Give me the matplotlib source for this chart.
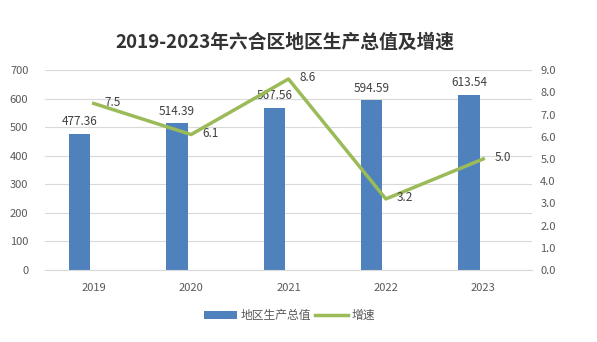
import matplotlib.pyplot as plt
import numpy as np

plt.rcParams['font.family'] = ['Noto Sans CJK SC', 'DejaVu Sans']

years = ['2019', '2020', '2021', '2022', '2023']
gdp = [477.36, 514.39, 567.56, 594.59, 613.54]
growth = [7.5, 6.1, 8.6, 3.2, 5.0]

BLUE = '#4F81BD'
GREEN = '#9BBB59'
TXT = '#595959'

fig = plt.figure(figsize=(5.97, 3.42), dpi=100)
ax = fig.add_axes([0.0754, 0.2105, 0.8156, 0.5845])
ax2 = ax.twinx()

x = np.arange(len(years))
bx = x - 0.145
ax.bar(bx, gdp, width=0.22, color=BLUE, zorder=2, label='地区生产总值')
for xi, v in zip(bx, gdp):
    ax.annotate(f'{v:.2f}', (xi, v), xytext=(0, 4), textcoords='offset points',
                ha='center', va='bottom', fontsize=8.5, color='#404040')

ax2.plot(x, growth, color=GREEN, lw=2.5, zorder=3, label='增速')
for xi, v in zip(x, growth):
    ax2.annotate(f'{v:.1f}', (xi, v), xytext=(8, 1), textcoords='offset points',
                 ha='left', va='center', fontsize=8.5, color='#404040')

ax.set_xlim(-0.5, 4.5)
ax.set_ylim(0, 700)
ax.set_yticks(range(0, 701, 100))
ax2.set_ylim(0, 9)
ax2.set_yticks(np.arange(0, 9.1, 1))
ax2.set_yticklabels([f'{t:.1f}' for t in np.arange(0, 9.1, 1)])
ax.set_xticks(x)
ax.set_xticklabels(years)
ax.yaxis.grid(True, color='#D9D9D9', lw=0.8, zorder=0)
ax.set_axisbelow(True)

for a in (ax, ax2):
    for s in a.spines.values():
        s.set_visible(False)
    a.tick_params(length=0, labelsize=8, colors=TXT)
ax.tick_params(axis='x', pad=9)
ax.tick_params(axis='y', pad=12)
ax2.tick_params(axis='y', pad=6)
ax.spines['bottom'].set_visible(True)
ax.spines['bottom'].set_color('#D9D9D9')

fig.suptitle('2019-2023年六合区地区生产总值及增速', x=0.478, y=0.905,
             fontsize=13.5, fontweight='bold', color='#333333')

h1, l1 = ax.get_legend_handles_labels()
h2, l2 = ax2.get_legend_handles_labels()
fig.legend(h1 + h2, l1 + l2, loc='center', bbox_to_anchor=(0.485, 0.077), ncol=2,
           frameon=False, fontsize=8.5, labelcolor=TXT, handlelength=2.8,
           handletextpad=0.3, columnspacing=0.3)

fig.savefig('out.png', dpi=100)
